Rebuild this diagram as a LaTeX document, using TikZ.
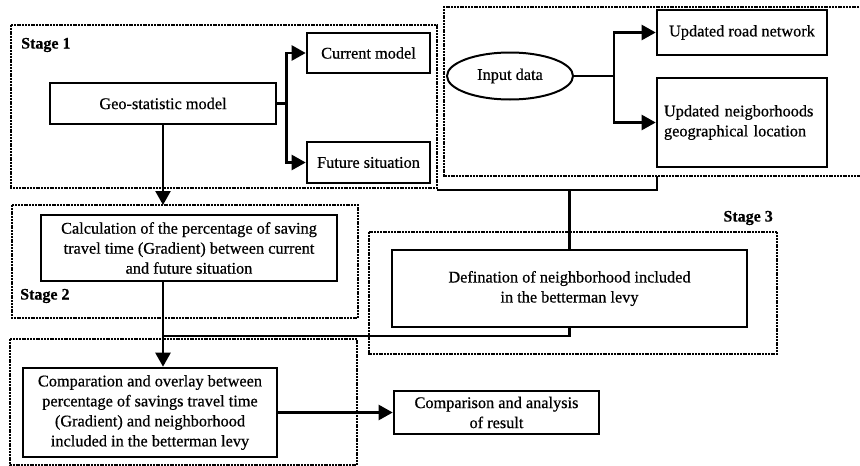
\documentclass[tikz,border=0pt]{standalone}
\usepackage{fontspec}
\setmainfont{Liberation Serif}[FakeBold=0.6]
\usetikzlibrary{arrows.meta,shapes.geometric,calc}
\begin{document}
\begin{tikzpicture}[x=1pt,y=-1pt,
  box/.style={draw,line width=2.6pt,inner sep=0pt,align=center,font=\fontsize{16.3}{20}\selectfont},
  stagebox/.style={draw,line width=1.6pt,dash pattern=on 2pt off 0.8pt},
  stagelabel/.style={font=\bfseries\fontsize{16}{20}\selectfont,inner sep=0pt},
  conn/.style={line width=2.4pt},
  arr/.style={line width=2.4pt,-{Triangle[length=14pt,width=15pt]}}]
\useasboundingbox (0,0) rectangle (860,466);
% dashed stage frames
\draw[stagebox] (11,25) rectangle (437,188);
\draw[stagebox] (12,205) rectangle (358,318);
\draw[stagebox] (369,232) rectangle (777,354);
\draw[stagebox] (10,339) rectangle (357,465);
\draw[stagebox] (862,7) -- (444,7) -- (444,176) -- (862,176);
\coordinate (s2top) at (163,205);
\coordinate (inbot) at (657,176);
\coordinate (s1corner) at (437,190);
% stage labels
\node[stagelabel,anchor=west] (l1) at (21,45) {Stage 1};
\node[stagelabel,anchor=west] (l2) at (20,296) {Stage 2};
\node[stagelabel,anchor=east] (l3) at (773,218) {Stage 3};
% boxes
\node[box,minimum width=226pt,minimum height=41pt] (geo) at (163,103.5) {Geo-statistic model};
\node[box,minimum width=123pt,minimum height=40pt] (cur) at (368.5,53) {Current model};
\node[box,minimum width=123pt,minimum height=41pt] (fut) at (368.5,162.5) {Future situation};
\node[box,minimum width=296pt,minimum height=66pt] (calc) at (189,248) {Calculation of the percentage of saving\\travel time (Gradient) between current\\and future situation};
\node[box,minimum width=355pt,minimum height=77pt] (def) at (569.5,288.5) {Defination of neighborhood included\\in the betterman levy};
\node[box,minimum width=254pt,minimum height=89pt] (comp) at (150,412.5) {Comparation and overlay between\\percentage of savings travel time\\(Gradient) and neighborhood\\included in the betterman levy};
\node[box,minimum width=205pt,minimum height=43pt] (res) at (496.5,412.5) {Comparison and analysis\\of result};
\node[box,minimum width=170pt,minimum height=45pt] (road) at (742,32.5) {Updated road network};
\node[box,minimum width=170pt,minimum height=89pt,align=left,text width=156pt] (neigh) at (742,122.5) {Updated neigborhoods\\geographical location\\[4pt]};
\node[box,draw,line width=2pt,ellipse,minimum width=126pt,minimum height=47pt] (inp) at (510,76) {Input data};
% connectors
\draw[arr] (geo.east) -- ++(9,0) |- (cur.west);
\draw[arr] (geo.east) -- ++(9,0) |- (fut.west);
\draw[arr] (geo.south) -- (s2top);
\draw[conn] (inp.east) -- ++(40,0) coordinate (ib);
\draw[arr] (ib) |- (road.west);
\draw[arr] (ib) |- (neigh.west);
\draw[conn] (inbot) -- (inbot |- s1corner) -- (s1corner);
\draw[conn] (def.north |- s1corner) -- (def.north);
\coordinate (j2) at (163,336);
\draw[arr] (calc.south -| geo.south) -- (comp.north -| geo.south);
\draw[conn] (j2) -| (def.south);
\draw[arr] (comp.east |- res.west) -- (res.west);
\end{tikzpicture}
\end{document}
